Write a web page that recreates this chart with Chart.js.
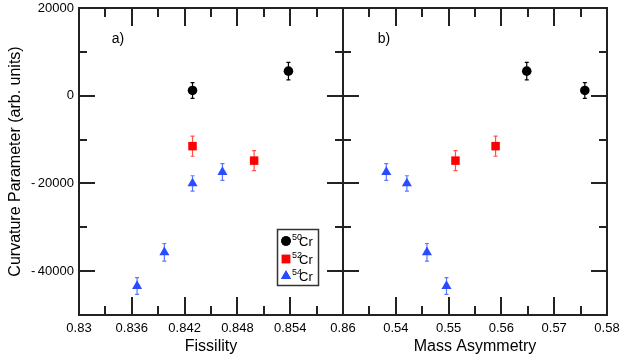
<!DOCTYPE html>
<html><head><meta charset="utf-8">
<script src="https://cdn.jsdelivr.net/npm/chart.js@4.4.0/dist/chart.umd.min.js"></script>
<style>
html,body{margin:0;padding:0;background:#fff;}
#wrap{position:relative;width:623px;height:356px;overflow:hidden;background:#fff;}
#c1{position:absolute;left:0;top:0;width:360px;height:356px;}
#c2{position:absolute;left:330px;top:0;width:293px;height:356px;}
</style></head><body>
<div id="wrap"><canvas id="c1" width="360" height="356"></canvas><canvas id="c2" width="293" height="356"></canvas></div>
<script>
// ---- data ----
const isotopes = ['50', '52', '54'];
const fiss50 = [0.8429, 0.8538];
const mass50 = [0.5758, 0.5648];
const curv50 = [1200, 5600];
const err50  = [1800, 2000];

const fiss52 = [0.8429, 0.8499];
const mass52 = [0.5589, 0.5513];
const curv52 = [-11500, -14800];
const err52  = [2300, 2300];

const fiss54 = [0.8429, 0.8463, 0.8397, 0.8366];
const mass54 = [0.5421, 0.5382, 0.5459, 0.5496];
const curv54 = [-20000, -17400, -35700, -43400];
const err54  = [1750, 1900, 2000, 1900];

const fissMajor = [0.83, 0.836, 0.842, 0.848, 0.854, 0.86];
const fissMinor = [0.833, 0.839, 0.845, 0.851, 0.857];
const massMajor = [0.53, 0.54, 0.55, 0.56, 0.57, 0.58];
const massMinor = [0.535, 0.545, 0.555, 0.565, 0.575];
const curvMajor = [20000, 0, -20000, -40000];
const curvMinor = [10000, -10000, -30000];
const fissLabels = ['0.83', '0.836', '0.842', '0.848', '0.854', '0.86'];
const massLabels = ['', '0.54', '0.55', '0.56', '0.57', '0.58'];
const curvLabels = ['20000', '0', '-\u200920000', '-\u200940000'];

const FONT = "'Liberation Sans', Arial, Helvetica, sans-serif";
const COL50 = '#000000', COL52 = '#ff0000', COL54 = '#2a4cff';
const ECOL50 = '#000000', ECOL52 = '#ff5050', ECOL54 = '#5a78ff';

function pts(xs, ys) { return xs.map((x, i) => ({x: x, y: ys[i]})); }

function datasets(xs50, xs52, xs54) {
  return [
    {label: '50Cr', data: pts(xs50, curv50), errors: err50, errColor: ECOL50,
     pointStyle: 'circle', pointRadius: 4.8, backgroundColor: COL50, borderColor: COL50, borderWidth: 0},
    {label: '52Cr', data: pts(xs52, curv52), errors: err52, errColor: ECOL52,
     pointStyle: 'rect', pointRadius: 6, backgroundColor: COL52, borderColor: COL52, borderWidth: 0},
    {label: '54Cr', data: pts(xs54, curv54), errors: err54, errColor: ECOL54,
     pointStyle: 'triangle', pointRadius: 5.8, backgroundColor: COL54, borderColor: COL54, borderWidth: 0}
  ];
}

const errorBars = {
  id: 'errorBars',
  beforeDatasetsDraw(chart) {
    const ctx = chart.ctx, xs = chart.scales.x, ys = chart.scales.y;
    ctx.save();
    chart.data.datasets.forEach(ds => {
      ctx.strokeStyle = ds.errColor; ctx.lineWidth = 1.2;
      ds.data.forEach((p, i) => {
        const x = xs.getPixelForValue(p.x);
        const y1 = ys.getPixelForValue(p.y + ds.errors[i]);
        const y2 = ys.getPixelForValue(p.y - ds.errors[i]);
        ctx.beginPath();
        ctx.moveTo(x, y1); ctx.lineTo(x, y2);
        ctx.moveTo(x - 2, y1); ctx.lineTo(x + 2, y1);
        ctx.moveTo(x - 2, y2); ctx.lineTo(x + 2, y2);
        ctx.stroke();
      });
    });
    ctx.restore();
  }
};

function framePlugin(xMajor, xMinor, panelLabel, labelX, withLegend) {
  return {
    id: 'frame' + panelLabel.charAt(0),
    afterDraw(chart) {
      const ctx = chart.ctx, a = chart.chartArea, xs = chart.scales.x, ys = chart.scales.y;
      const L = Math.round(a.left), R = Math.round(a.right), T = Math.round(a.top), B = Math.round(a.bottom);
      ctx.save();
      ctx.fillStyle = '#222';
      // frame (2px, pixel-snapped)
      ctx.fillRect(L - 1, T - 1, R - L + 2, 2);
      ctx.fillRect(L - 1, B - 1, R - L + 2, 2);
      ctx.fillRect(L - 1, T - 1, 2, B - T + 2);
      ctx.fillRect(R - 1, T - 1, 2, B - T + 2);
      // ticks (inside, mirrored on all four sides)
      xMajor.concat(xMinor).forEach((v, k) => {
        const len = k < xMajor.length ? 18 : 9;
        const x = Math.round(xs.getPixelForValue(v));
        ctx.fillRect(x - 1, B - len, 2, len);
        ctx.fillRect(x - 1, T, 2, len);
      });
      curvMajor.concat(curvMinor).forEach((v, k) => {
        const len = k < curvMajor.length ? 16 : 8;
        const y = Math.round(ys.getPixelForValue(v));
        ctx.fillRect(L, y - 1, len, 2);
        ctx.fillRect(R - len, y - 1, len, 2);
      });
      // panel label
      ctx.fillStyle = '#000';
      ctx.font = '14px ' + FONT;
      ctx.textAlign = 'center'; ctx.textBaseline = 'middle';
      ctx.fillText(panelLabel, labelX, 39);
      if (withLegend) {
        ctx.lineWidth = 1.5; ctx.strokeStyle = '#333';
        ctx.strokeRect(277.5, 229.5, 41, 56);
        const rows = [241, 259, 276];
        const cols = [COL50, COL52, COL54];
        const styles = ['circle', 'rect', 'triangle'];
        const radii = [4.8, 6, 5.8];
        rows.forEach((ry, i) => {
          ctx.fillStyle = cols[i];
          Chart.helpers.drawPoint(ctx, {pointStyle: styles[i], radius: radii[i], borderWidth: 0, rotation: 0}, 286, ry);
          ctx.fill();
          ctx.fillStyle = '#000';
          ctx.textAlign = 'left'; ctx.textBaseline = 'alphabetic';
          ctx.font = '9px ' + FONT;
          ctx.fillText(isotopes[i], 292, ry - 1);
          ctx.font = '13px ' + FONT;
          ctx.fillText('Cr', 299, ry + 5);
        });
      }
      ctx.restore();
    }
  };
}

function makeOptions(xMin, xMax, xMajor, xLabels, xTitle, showY, pad) {
  return {
    responsive: false, animation: false, devicePixelRatio: 1,
    layout: {padding: pad},
    plugins: {legend: {display: false}, tooltip: {enabled: false}},
    scales: {
      x: {
        type: 'linear', min: xMin, max: xMax,
        afterBuildTicks: s => { s.ticks = xMajor.map(v => ({value: v})); },
        afterFit: s => { s.height = 41; s.paddingLeft = 0; s.paddingRight = 0; },
        grid: {display: false, drawTicks: false}, border: {display: false},
        ticks: {padding: 6, maxRotation: 0, autoSkip: false, color: '#000',
                font: {family: FONT, size: 13},
                callback: (v, i) => xLabels[i]},
        title: {display: true, text: xTitle, color: '#000', font: {family: FONT, size: 16},
                padding: {top: 0, bottom: 0}}
      },
      y: {
        type: 'linear', min: -50000, max: 20000, display: showY,
        afterBuildTicks: s => { s.ticks = curvMajor.map(v => ({value: v})); },
        afterFit: s => { if (showY) s.width = 79; s.paddingTop = 0; s.paddingBottom = 0; },
        grid: {display: false, drawTicks: false}, border: {display: false},
        ticks: {padding: 5, color: '#000', font: {family: FONT, size: 13},
                callback: (v, i) => curvLabels[i]},
        title: {display: true, text: 'Curvature Parameter (arb. units)', color: '#000',
                font: {family: FONT, size: 16}, padding: {top: 6, bottom: 0}}
      }
    }
  };
}

new Chart(document.getElementById('c1'), {
  type: 'scatter',
  data: {datasets: datasets(fiss50, fiss52, fiss54)},
  options: makeOptions(0.83, 0.86, fissMajor, fissLabels, 'Fissility', true,
                       {left: 0, right: 17, top: 8, bottom: 0}),
  plugins: [errorBars, framePlugin(fissMajor, fissMinor, 'a)', 118, true)]
});

new Chart(document.getElementById('c2'), {
  type: 'scatter',
  data: {datasets: datasets(mass50, mass52, mass54)},
  options: makeOptions(0.53, 0.58, massMajor, massLabels, 'Mass Asymmetry', false,
                       {left: 13, right: 16, top: 8, bottom: 0}),
  plugins: [errorBars, framePlugin(massMajor, massMinor, 'b)', 54, false)]
});
</script>
</body></html>
